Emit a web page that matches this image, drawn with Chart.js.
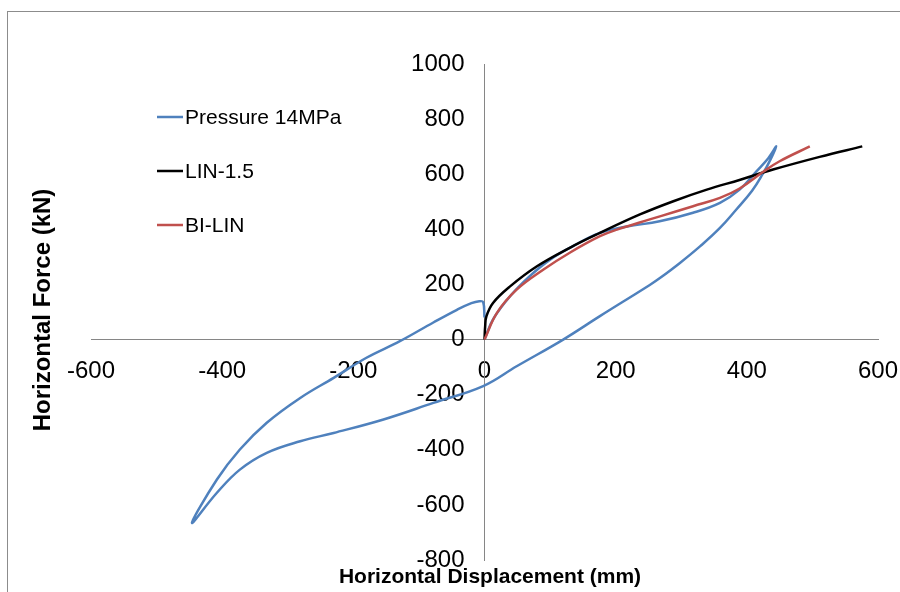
<!DOCTYPE html>
<html>
<head>
<meta charset="utf-8">
<script src="https://cdn.jsdelivr.net/npm/chart.js@4/dist/chart.umd.min.js"></script>
<style>
  body { margin: 0; background: #fff; }
  #wrap { width: 900px; height: 592px; }
</style>
</head>
<body>
<div id="wrap"><canvas id="chart" width="900" height="592"></canvas></div>
<script>
// Series values (mm, kN)
const pressureX = [0, 13, 39, 69, 100, 135, 176, 217, 267, 318, 359, 389, 415, 433, 445,
    436, 424, 408, 384, 359, 329, 298, 268, 252, 176, 120, 49, -2, -78, -154, -230, -281, -332, -373, -408, -446,
    -408, -373, -332, -281, -230, -180, -129, -78, -42, -20, -8, -2, 0];
const pressureY = [0, 73, 157, 230, 290, 339, 387, 410, 429, 460, 496, 544, 611, 659, 701,
    653, 600, 540, 472, 405, 339, 278, 224, 198, 85, 0, -97, -169, -230, -290, -339, -369, -411, -472, -556, -665,
    -508, -399, -302, -212, -139, -66, -6, 62, 108, 132, 139, 136, 80];

const linX = [0, 1, 3, 13, 39, 80, 130, 176, 237, 288, 339, 390, 440, 511, 576];
const linY = [0, 48, 85, 133, 193, 266, 333, 387, 454, 502, 544, 580, 617, 663, 701];

const bilinX = [0, 19, 49, 90, 130, 176, 202, 252, 288, 318, 359, 389, 425, 450, 496];
const bilinY = [0, 97, 181, 254, 315, 375, 399, 436, 462, 484, 514, 548, 609, 647, 701];

const seriesNames = ['Pressure 14MPa', 'LIN-1.5', 'BI-LIN'];
const seriesColors = ['#4F81BD', '#000000', '#C0504D'];

const xTitle = 'Horizontal Displacement (mm)';
const yTitle = 'Horizontal Force (kN)';

function toPoints(xs, ys) {
    return xs.map((x, i) => ({ x: x, y: ys[i] }));
}

// Outer frame like the Excel chart border
const framePlugin = {
    id: 'frame',
    beforeDraw(chart) {
        const ctx = chart.ctx;
        ctx.save();
        ctx.fillStyle = '#fff';
        ctx.fillRect(0, 0, chart.width, chart.height);
        ctx.strokeStyle = '#8c8c8c';
        ctx.lineWidth = 1;
        ctx.strokeRect(7.5, 11.5, 920, 620);
        ctx.restore();
    }
};

// Legend at upper left plus the two axis titles
const labelsPlugin = {
    id: 'labels',
    afterDraw(chart) {
        const ctx = chart.ctx;
        ctx.save();
        ctx.textBaseline = 'middle';
        ctx.font = '21px "Liberation Sans", Arial, sans-serif';
        seriesNames.forEach((name, i) => {
            const y = 117 + i * 54;
            ctx.strokeStyle = seriesColors[i];
            ctx.lineWidth = 2.5;
            ctx.beginPath();
            ctx.moveTo(157, y);
            ctx.lineTo(183, y);
            ctx.stroke();
            ctx.fillStyle = '#000';
            ctx.textAlign = 'left';
            ctx.fillText(name, 185, y + 1);
        });

        ctx.font = 'bold 21px "Liberation Sans", Arial, sans-serif';
        ctx.textAlign = 'center';
        ctx.fillText(xTitle, 490, 577);

        ctx.translate(43, 310);
        ctx.rotate(-Math.PI / 2);
        ctx.font = 'bold 24px "Liberation Sans", Arial, sans-serif';
        ctx.fillText(yTitle, 0, 0);
        ctx.restore();
    }
};

const tickFont = { family: '"Liberation Sans", Arial, sans-serif', size: 24 };

new Chart(document.getElementById('chart'), {
    type: 'scatter',
    data: {
        datasets: [
            { label: seriesNames[0], data: toPoints(pressureX, pressureY), borderColor: seriesColors[0], order: 3 },
            { label: seriesNames[1], data: toPoints(linX, linY), borderColor: seriesColors[1], order: 2 },
            { label: seriesNames[2], data: toPoints(bilinX, bilinY), borderColor: seriesColors[2], order: 1 }
        ]
    },
    options: {
        responsive: false,
        animation: false,
        devicePixelRatio: 1,
        showLine: true,
        layout: { padding: { left: 91, right: 22, top: 64, bottom: 32 } },
        elements: {
            point: { radius: 0 },
            line: { borderWidth: 2.5, tension: 0.4, fill: false }
        },
        plugins: { legend: { display: false }, tooltip: { enabled: false } },
        scales: {
            x: {
                type: 'linear',
                min: -600, max: 600,
                position: { y: 0 },
                grid: { display: true, drawOnChartArea: false, drawTicks: true, tickLength: 17, tickColor: 'rgba(0,0,0,0)' },
                border: { display: true, color: '#868686', width: 1 },
                ticks: { stepSize: 200, color: '#000', font: tickFont, padding: 0, format: { useGrouping: false } }
            },
            y: {
                type: 'linear',
                min: -800, max: 1000,
                position: { x: 0 },
                grid: { display: false },
                border: { display: true, color: '#868686', width: 1 },
                // labels of a centred axis sit on the line, so pad them with spaces
                ticks: { stepSize: 200, color: '#000', font: tickFont, padding: 0, callback: (v) => v + '   ' }
            }
        }
    },
    plugins: [framePlugin, labelsPlugin]
});
</script>
</body>
</html>
